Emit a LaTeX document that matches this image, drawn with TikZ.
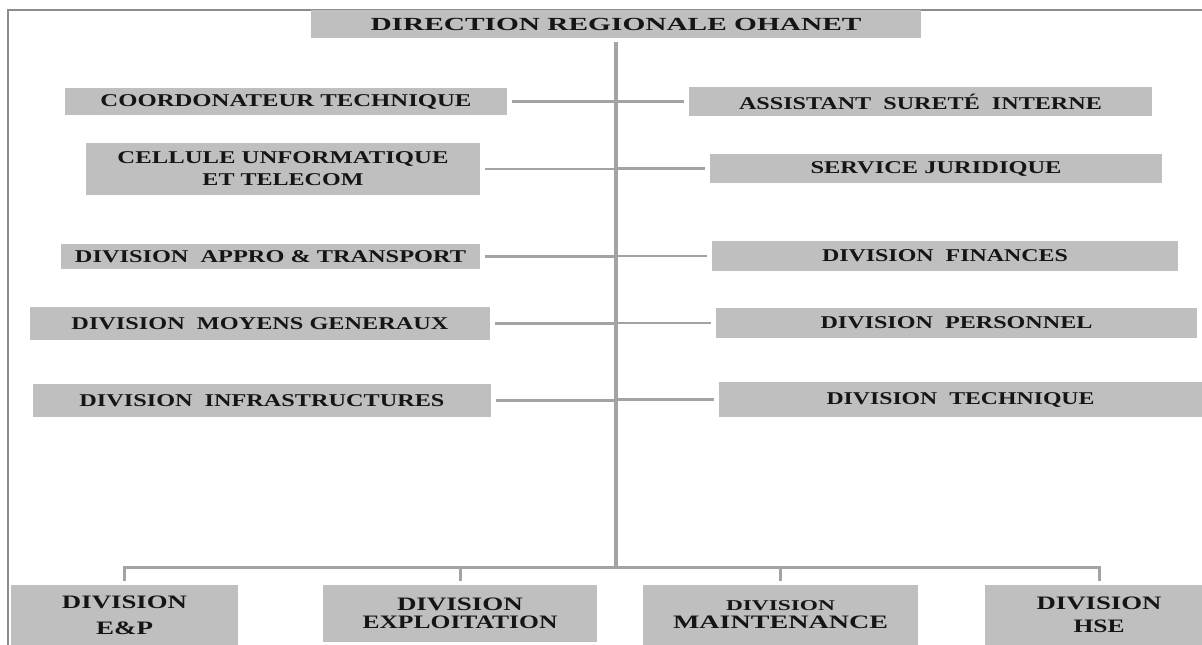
\documentclass[tikz,border=0pt]{standalone}
\usepackage{fontspec}
\setmainfont{Liberation Serif}
\usepackage{graphicx}
\newcommand\sx[2]{\resizebox{#1}{\height}{#2}}
\definecolor{boxgray}{HTML}{BFBFBF}
\definecolor{linegray}{HTML}{A3A3A3}
\definecolor{framegray}{HTML}{8C8C8C}
\definecolor{txt}{HTML}{151515}
\begin{document}
\begin{tikzpicture}[x=1pt,y=-1pt,
  box/.style={fill=boxgray, draw=none, inner sep=0pt, text=txt, align=center,
    font=\bfseries\fontsize{18}{22}\selectfont},
  lowbox/.style={box, font=\bfseries\fontsize{19}{24}\selectfont},
  branch/.style={draw=linegray, line width=2.2pt},
  trunk/.style={draw=linegray, line width=4pt},
  bus/.style={draw=linegray, line width=3pt},
  frame/.style={draw=framegray, line width=1.6pt}]
\useasboundingbox (0,0) rectangle (1202,645);
\fill[white] (0,0) rectangle (1202,645);
\draw[frame] (8,645) -- (8,10) -- (1202,10);

% top
\node[box, minimum width=610pt, minimum height=28pt, font=\bfseries\fontsize{18.5}{22}\selectfont] (top) at (616,24) {\sx{491pt}{DIRECTION REGIONALE OHANET}};

% left column
\node[box, minimum width=442pt, minimum height=27pt] (coord) at (286,101.5) {\sx{371pt}{COORDONATEUR TECHNIQUE}};
\node[box, minimum width=394pt, minimum height=52pt] (cell) at (283,169) {\sx{331pt}{CELLULE UNFORMATIQUE}\\[0pt]\sx{161pt}{ET TELECOM}};
\node[box, minimum width=419pt, minimum height=25pt] (appro) at (270.5,256.5) {\sx{391pt}{DIVISION~~APPRO \& TRANSPORT}};
\node[box, minimum width=460pt, minimum height=33pt] (moy) at (260,323.5) {\sx{377pt}{DIVISION~~MOYENS GENERAUX}};
\node[box, minimum width=458pt, minimum height=33pt] (infra) at (262,400.5) {\sx{365pt}{DIVISION~~INFRASTRUCTURES}};

% right column
\node[box, minimum width=463pt, minimum height=29pt] (assist) at (920.5,101.5) {\sx{363pt}{ASSISTANT~~SURETÉ~~INTERNE}};
\node[box, minimum width=452pt, minimum height=29pt] (jur) at (936,168.5) {\sx{251pt}{SERVICE JURIDIQUE}};
\node[box, minimum width=466pt, minimum height=30pt] (fin) at (945,256) {\sx{246pt}{DIVISION~~FINANCES}};
\node[box, minimum width=481pt, minimum height=30pt] (pers) at (956.5,323) {\sx{272pt}{DIVISION~~PERSONNEL}};
\node[box, minimum width=483pt, minimum height=35pt] (tech) at (960.5,399.5) {\sx{268pt}{DIVISION~~TECHNIQUE}};

% bottom row
\node[lowbox, minimum width=227pt, minimum height=60pt, font=\bfseries\fontsize{19}{26}\selectfont] (ep) at (124.5,615) {\sx{125pt}{DIVISION}\\\sx{57pt}{E\&P}};
\node[lowbox, minimum width=274pt, minimum height=57pt, font=\bfseries\fontsize{19}{18}\selectfont] (expl) at (460,613.5) {\sx{126pt}{DIVISION}\\\sx{195pt}{EXPLOITATION}};
\node[lowbox, minimum width=275pt, minimum height=60pt, font=\bfseries\fontsize{19}{18}\selectfont] (maint) at (780.5,615) {\sx{109pt}{\fontsize{15}{18}\selectfont DIVISION}\\\sx{215pt}{MAINTENANCE}};
\node[lowbox, minimum width=228pt, minimum height=60pt, font=\bfseries\fontsize{19}{23}\selectfont] (hse) at (1099,615) {\sx{125pt}{DIVISION}\\\sx{51pt}{HSE}};

% connectors
\coordinate (bus) at (616,567);
\draw[trunk] ([yshift=-4pt]top.south) -- ([yshift=-1.5pt]bus);
\foreach \n in {coord,cell,appro,moy,infra}
  \draw[branch] ([xshift=5pt]\n.east) -- (\n.east -| bus);
\foreach \n in {assist,jur,fin,pers,tech}
  \draw[branch] (\n.west -| bus) -- ([xshift=-5pt]\n.west);
\draw[bus] ([yshift=4pt]ep.north) -- (ep.north |- bus) -- (hse.north |- bus) -- ([yshift=4pt]hse.north);
\draw[bus] (expl.north |- bus) -- ([yshift=4pt]expl.north);
\draw[bus] (maint.north |- bus) -- ([yshift=4pt]maint.north);
\end{tikzpicture}
\end{document}
